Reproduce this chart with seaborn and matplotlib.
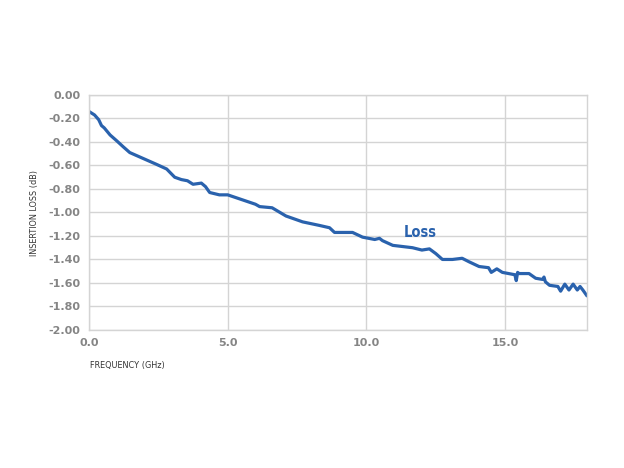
import matplotlib
matplotlib.use("Agg")
import matplotlib.pyplot as plt
import seaborn as sns
import pandas as pd

freq_ghz = [0.0, 0.2, 0.35, 0.45, 0.55, 0.76, 1.0, 1.23, 1.47, 1.95, 2.43, 2.8, 3.09, 3.33,
            3.55, 3.75, 4.05, 4.2, 4.35, 4.7, 5.0, 5.5, 6.0, 6.15, 6.6, 7.1, 7.7, 8.3, 8.67,
            8.85, 9.5, 9.86, 10.3, 10.47, 10.58, 10.95, 11.66, 12.0, 12.27, 12.5, 12.74,
            13.1, 13.45, 13.7, 14.06, 14.4, 14.5, 14.7, 14.9, 15.35, 15.4, 15.45, 15.5,
            15.86, 16.1, 16.35, 16.4, 16.45, 16.6, 16.9, 17.0, 17.15, 17.3, 17.45, 17.6,
            17.7, 17.8, 17.95]
loss_db = [-0.14, -0.17, -0.21, -0.26, -0.28, -0.34, -0.39, -0.44, -0.49, -0.54, -0.59, -0.63,
           -0.70, -0.72, -0.73, -0.76, -0.75, -0.78, -0.83, -0.85, -0.85, -0.89, -0.93, -0.95,
           -0.96, -1.03, -1.08, -1.11, -1.13, -1.17, -1.17, -1.21, -1.23, -1.22, -1.24, -1.28,
           -1.30, -1.32, -1.31, -1.35, -1.40, -1.40, -1.39, -1.42, -1.46, -1.47, -1.51, -1.48,
           -1.51, -1.53, -1.58, -1.51, -1.52, -1.52, -1.56, -1.57, -1.55, -1.59, -1.62, -1.63,
           -1.67, -1.61, -1.66, -1.61, -1.66, -1.63, -1.66, -1.71]

x_ticks = [0.0, 5.0, 10.0, 15.0]
x_tick_labels = ["0.0", "5.0", "10.0", "15.0"]
y_ticks = [0.0, -0.2, -0.4, -0.6, -0.8, -1.0, -1.2, -1.4, -1.6, -1.8, -2.0]
y_tick_labels = ["0.00", "-0.20", "-0.40", "-0.60", "-0.80", "-1.00", "-1.20", "-1.40",
                 "-1.60", "-1.80", "-2.00"]

series_label = "Loss"
x_title = "FREQUENCY (GHz)"
y_title = "INSERTION LOSS (dB)"

sns.set_style("white")
df = pd.DataFrame({"freq": freq_ghz, "loss": loss_db})

fig = plt.figure(figsize=(6.24, 4.68), dpi=100)
ax = fig.add_axes([0.1426, 0.295, 0.7981, 0.502])

line_color = "#2a62ad"
grid_color = "#d4d4d4"
tick_color = "#858585"

sns.lineplot(data=df, x="freq", y="loss", ax=ax, color=line_color, linewidth=2.3, legend=False)

ax.set_xlim(0, 17.95)
ax.set_ylim(-2.0, 0.0)
ax.set_xticks(x_ticks)
ax.set_xticklabels(x_tick_labels)
ax.set_yticks(y_ticks)
ax.set_yticklabels(y_tick_labels)
ax.tick_params(axis="both", length=0, labelsize=8, colors=tick_color, pad=6)
for lab in ax.get_xticklabels() + ax.get_yticklabels():
    lab.set_fontweight("semibold")
ax.grid(True, color=grid_color, linewidth=1.0)
ax.set_axisbelow(True)
for s in ax.spines.values():
    s.set_color(grid_color)
    s.set_linewidth(1.0)

ax.set_xlabel("")
ax.set_ylabel("")
fig.text(0.144, 0.218, x_title, fontsize=6.5, color="#333333", ha="left", va="center",
         family="DejaVu Sans", fontstretch="condensed")
fig.text(0.056, 0.545, y_title, fontsize=6.5, color="#333333", ha="center", va="center",
         rotation=90, family="DejaVu Sans", fontstretch="condensed")

ax.text(11.95, -1.17, series_label, fontsize=10.5, color=line_color, fontweight="bold",
        ha="center", va="center", family="DejaVu Sans", fontstretch="condensed")

fig.savefig("out.png", dpi=100)
